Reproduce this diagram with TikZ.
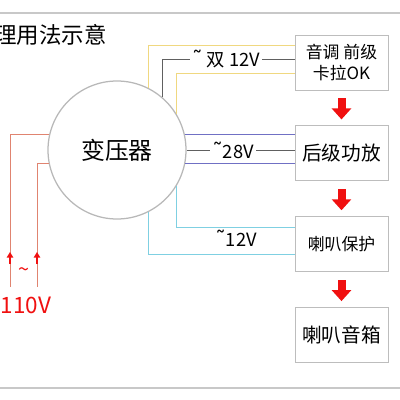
\documentclass[tikz,border=0pt]{standalone}
\usepackage{fontspec}
\setmainfont{Noto Sans CJK SC}
\newfontfamily\symfont{DejaVu Sans}
\usetikzlibrary{positioning,arrows.meta}

\definecolor{framegray}{HTML}{C8C8C8}
\definecolor{boxgray}{HTML}{BDBDBD}
\definecolor{circgray}{HTML}{B8B8B8}
\definecolor{yellowwire}{HTML}{F0D880}
\definecolor{graywire}{HTML}{606060}
\definecolor{purplewire}{HTML}{7070C4}
\definecolor{cyanwire}{HTML}{7FD0E2}
\definecolor{inwire}{HTML}{E08470}
\definecolor{flowred}{HTML}{F01010}

\newcommand{\fsz}[2]{\fontsize{#1}{#2}\selectfont}
\newcommand{\uptilde}{{\symfont\fontsize{15pt}{15pt}\selectfont ˜}}

\begin{document}
\begin{tikzpicture}[x=0.25mm, y=-0.25mm, node distance=8.75mm,
  box/.style={draw=boxgray, line width=0.6pt, minimum width=23.25mm,
    minimum height=13.75mm, inner sep=0pt, align=center},
  wire/.style={line width=0.7pt},
  lbl/.style={fill=white, text=black, inner sep=1.5pt, font=\fsz{13pt}{15pt}},
  flow/.style={draw=flowred, line width=2mm,
    -{Triangle[width=4.75mm,length=2.75mm]}},
  inarrow/.style={draw=flowred, line width=1.4pt,
    -{Triangle[width=1.6mm,length=1.4mm]}}]
  \useasboundingbox (0,0) rectangle (400,400);

  \draw [framegray, line width=0.8pt] (0,13) -- (400,13);
  \draw [framegray, line width=0.8pt] (0,388) -- (400,388);

  \node [anchor=west, inner sep=0pt, font=\fsz{16pt}{19pt}] (title) at (-6,35) {理用法示意};

  \node [circle, draw=circgray, line width=0.9pt, minimum size=34.5mm,
    font=\fsz{17pt}{20pt}] (trafo) at (117,150) {变压器};

  \node [box, font=\fsz{12pt}{15pt}] (pre) at (341.5,62.5) {音调\ 前级\\卡拉OK};
  \node [box, below=of pre, font=\fsz{14pt}{16pt}]  (amp)  {后级功放};
  \node [box, below=of amp, font=\fsz{12pt}{14pt}]  (prot) {喇叭保护};
  \node [box, below=of prot, font=\fsz{14pt}{16pt}] (spk)  {喇叭音箱};

  % supply to the preamp
  \draw [wire, yellowwire] (trafo.63) |- ([yshift=4.375mm]pre.west);
  \draw [wire, yellowwire] (trafo.31) |- ([yshift=-2.625mm]pre.west);
  \draw [wire, graywire] (trafo.49) |- node [lbl, pos=0.74] {\uptilde\ 双 12V} ([yshift=0.875mm]pre.west);

  % supply to the power amp
  \draw [wire, purplewire] (trafo.13) -- (trafo.13 -| amp.west);
  \draw [wire, purplewire] (trafo.-11) -- (trafo.-11 -| amp.west);
  \draw [wire, graywire] (trafo.0) -- node [lbl, pos=0.43] {\uptilde28V} (trafo.0 -| amp.west);

  % supply to the protection
  \draw [wire, cyanwire] (trafo.-31) |- ([yshift=4.125mm]prot.west);
  \draw [wire, cyanwire] (trafo.-63) |- ([yshift=-2.625mm]prot.west);
  \node [lbl, fill=none] (v12) at (236,238) {\uptilde12V};

  % mains input
  \coordinate (inA) at (10,287);
  \coordinate (inB) at (37,287);
  \draw [wire, inwire] (trafo.167) -| (inA);
  \draw [wire, inwire] (trafo.191) -| (inB);
  \draw [inarrow] ([yshift=5.75mm]inA) -- ([yshift=8.75mm]inA);
  \draw [inarrow] ([yshift=5.75mm]inB) -- ([yshift=8.75mm]inB);
  \node [text=flowred, font=\fsz{14pt}{16pt}] (tilde) at (24,272) {\textasciitilde};
  \node [text=flowred, font=\fsz{16pt}{18pt}] (volt) at (26,305) {110V};

  % signal flow
  \draw [flow] ([yshift=-2mm]pre.south) -- ([yshift=1.5mm]amp.north);
  \draw [flow] ([yshift=-2mm]amp.south) -- ([yshift=1.5mm]prot.north);
  \draw [flow] ([yshift=-2mm]prot.south) -- ([yshift=1.5mm]spk.north);
\end{tikzpicture}
\end{document}
